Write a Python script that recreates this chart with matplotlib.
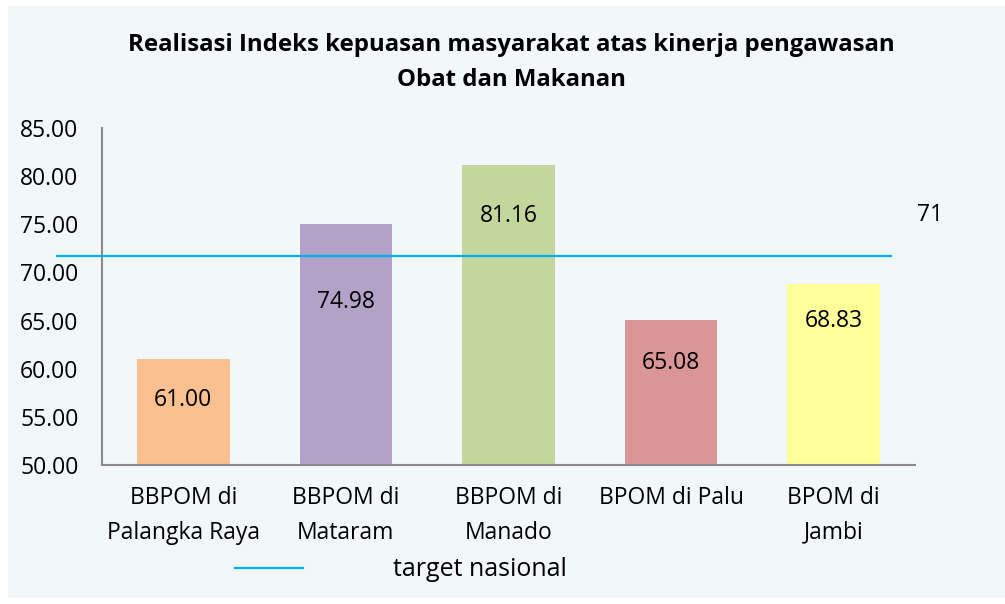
import matplotlib
matplotlib.use("Agg")
import matplotlib.pyplot as plt
from matplotlib.lines import Line2D

plt.rcParams['font.family'] = ['Open Sans', 'DejaVu Sans']

categories = ["BBPOM di\nPalangka Raya", "BBPOM di\nMataram", "BBPOM di\nManado",
              "BPOM di Palu", "BPOM di\nJambi"]
values = [61.00, 74.98, 81.16, 65.08, 68.83]
value_labels = ["61.00", "74.98", "81.16", "65.08", "68.83"]
target_value = 71
target_line_level = 71.7
colors = ["#FAC090", "#B3A2C7", "#C3D69B", "#D99694", "#FFFF99"]
yticks = [50, 55, 60, 65, 70, 75, 80, 85]

# label vertical offsets below bar tops (styling)
label_offsets = [4.26, 8.0, 5.3, 4.5, 3.84]

bg = "#F2F7FA"
fs = 16.5
fig = plt.figure(figsize=(10.05, 6.04), dpi=100)
fig.patch.set_facecolor("white")
fig.patches.append(plt.Rectangle((8/1005, 6/604), 997/1005, 592/604,
                                 transform=fig.transFigure, facecolor=bg,
                                 edgecolor="none", zorder=-10))

ax = fig.add_axes([102/1005, 1-465/604, 813/1005, (465-128)/604])
ax.set_facecolor(bg)
x = range(len(categories))
ax.bar(x, values, width=0.57, color=colors, zorder=2)
ax.set_xlim(-0.5, 4.5)
ax.set_ylim(50, 85)
ax.set_yticks(yticks)
ax.set_yticklabels([f"{v:.2f}" for v in yticks], fontsize=fs)
ax.set_xticks(list(x))
ax.set_xticklabels(categories, fontsize=fs, linespacing=1.6)
ax.tick_params(length=0)
ax.tick_params(axis='y', pad=17)
ax.tick_params(axis='x', pad=15)
for s in ["top", "right"]:
    ax.spines[s].set_visible(False)
for s in ["left", "bottom"]:
    ax.spines[s].set_color("#8C8C8C")
    ax.spines[s].set_linewidth(1.5)

for i, (v, lab, off) in enumerate(zip(values, value_labels, label_offsets)):
    ax.text(i, v - off, lab, ha="center", va="center", fontsize=fs, color="black", zorder=3)

# target line
ax.plot([-0.777, 4.35], [target_line_level, target_line_level], color="#00B0F0",
        linewidth=1.6, clip_on=False, zorder=3)
ax.text(4.59, target_line_level + 4.3, str(target_value), ha="center", va="center",
        fontsize=fs, clip_on=False)

fig.text(511/1005, 1-45/604, "Realisasi Indeks kepuasan masyarakat atas kinerja pengawasan",
         ha="center", va="center", fontsize=17.3, fontweight="bold")
fig.text(511/1005, 1-80/604, "Obat dan Makanan",
         ha="center", va="center", fontsize=17.3, fontweight="bold")

# legend
handle = Line2D([0], [0], color="#00B0F0", linewidth=1.6)
fig.legend([handle], ["target nasional"], loc="center", bbox_to_anchor=(401/1005, 1-570/604),
           frameon=False, fontsize=18, handlelength=2.7, handletextpad=3.6)

fig.savefig("out.png", dpi=100, facecolor=fig.get_facecolor())
